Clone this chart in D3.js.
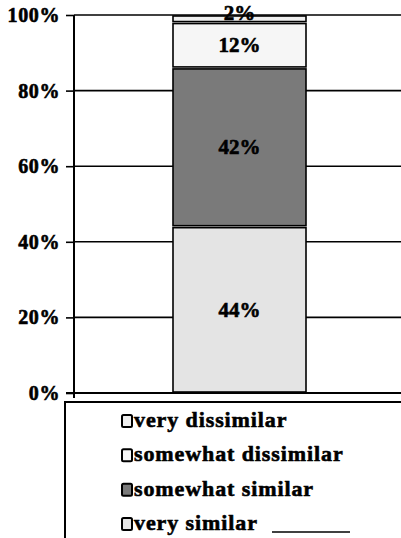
<!DOCTYPE html>
<html><head><meta charset="utf-8">
<script src="https://cdn.jsdelivr.net/npm/d3@7"></script>
<style>body{margin:0;background:#fff}svg{display:block}</style>
</head><body>
<script>
const categories = ["very similar","somewhat similar","somewhat dissimilar","very dissimilar"];
const values = [44, 42, 12, 2];
const valueLabels = ["44%","42%","12%","2%"];
const fills = ["#e4e4e4","#7a7a7a","#f6f6f6","#efefef"];
const tickValues = [0,20,40,60,80,100];
const legendOrder = ["very dissimilar","somewhat dissimilar","somewhat similar","very similar"];

const W=401,H=538;
const svg=d3.select("body").append("svg").attr("width",W).attr("height",H);
const font="'Liberation Serif','Times New Roman',serif";

const y=d3.scaleLinear().domain([0,100]).range([393,15]);

// grid
svg.append("g").selectAll("line").data(tickValues.filter(d=>d>0)).join("line")
  .attr("x1",74).attr("x2",W).attr("y1",d=>y(d)).attr("y2",d=>y(d))
  .attr("stroke","#000").attr("stroke-width",1.6);

// stacked
let cum=0;
const stack=values.map((v,i)=>{const s={v,y0:cum,y1:cum+v,label:valueLabels[i],fill:fills[i]};cum+=v;return s;});
const bx=173,bw=133;
const g=svg.append("g");
g.selectAll("rect").data(stack).join("rect")
  .attr("x",bx).attr("width",bw)
  .attr("y",d=>y(d.y1)+1).attr("height",d=>Math.max(0,y(d.y0)-y(d.y1)-2))
  .attr("fill",d=>d.fill).attr("stroke","#000").attr("stroke-width",1.6);
g.selectAll("text").data(stack).join("text")
  .attr("x",bx+bw/2).attr("y",d=>(y(d.y0)+y(d.y1))/2+ (d.v<5?1:7))
  .attr("text-anchor","middle").attr("font-family",font).attr("font-weight","bold")
  .attr("font-size",21).attr("stroke","#000").attr("stroke-width",0.6).text(d=>d.label);

// y axis
const ax=d3.axisLeft(y).tickValues(tickValues).tickFormat(d=>d+"%").tickSize(8).tickPadding(6);
const axg=svg.append("g").attr("transform","translate(74,0)").call(ax);
axg.select(".domain").remove();
axg.selectAll(".tick line").attr("stroke","#000").attr("stroke-width",1.6);
axg.selectAll(".tick text").attr("font-family",font).attr("font-weight","bold").attr("font-size",20)
  .attr("fill","#000").attr("stroke","#000").attr("stroke-width",0.6).attr("letter-spacing",0.6);
svg.append("line").attr("x1",74).attr("x2",74).attr("y1",15).attr("y2",398).attr("stroke","#000").attr("stroke-width",2);
svg.append("line").attr("x1",66).attr("x2",W).attr("y1",393).attr("y2",393).attr("stroke","#000").attr("stroke-width",1.8);

// legend box
svg.append("line").attr("x1",65).attr("x2",65).attr("y1",401).attr("y2",H).attr("stroke","#000").attr("stroke-width",2);
svg.append("line").attr("x1",64).attr("x2",W).attr("y1",402).attr("y2",402).attr("stroke","#000").attr("stroke-width",2);
svg.append("line").attr("x1",272).attr("x2",350).attr("y1",532).attr("y2",532).attr("stroke","#000").attr("stroke-width",1.5);

const ly=d3.scalePoint().domain(legendOrder).range([421,524]);
const lg=svg.append("g").selectAll("g").data(legendOrder).join("g").attr("transform",d=>`translate(0,${ly(d)})`);
lg.append("rect").attr("x",122).attr("y",-6).attr("width",10).attr("height",12)
  .attr("fill",d=>fills[categories.indexOf(d)]).attr("stroke","#000").attr("stroke-width",2).attr("rx",1.5);
lg.append("text").attr("x",134).attr("y",6).attr("font-family",font).attr("font-weight","bold")
  .attr("font-size",22).attr("letter-spacing",0.9).attr("stroke","#000").attr("stroke-width",0.6).text(d=>d);
</script>
</body></html>
